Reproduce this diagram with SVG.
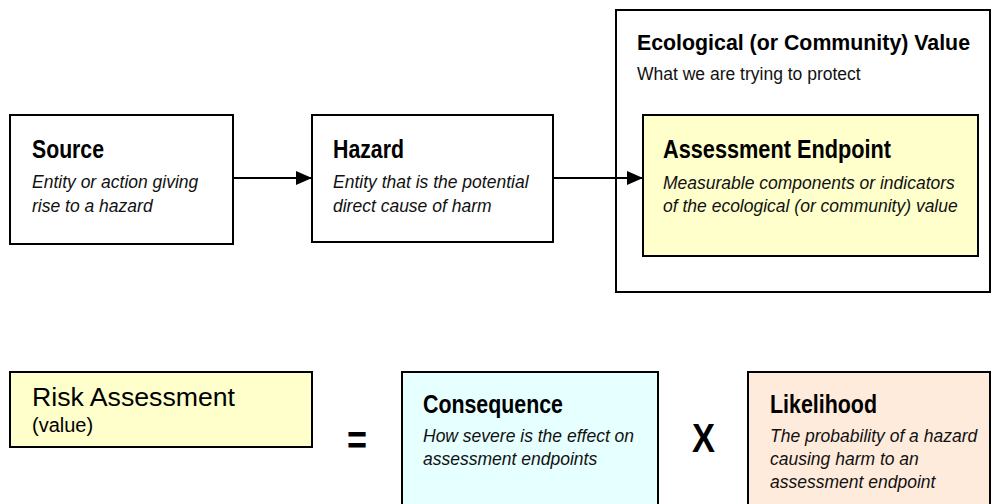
<svg xmlns="http://www.w3.org/2000/svg" width="992" height="504" viewBox="0 0 992 504">
<defs>
<marker id="ah" viewBox="0 0 16 14" refX="16" refY="7" markerWidth="16" markerHeight="14" markerUnits="userSpaceOnUse" orient="auto">
<path d="M0,0 L16,7 L0,14 Z" fill="#000"/>
</marker>
<style>
.box{stroke:#000;stroke-width:2;fill:#fff}
.yel{fill:#ffffcc}
.cyan{fill:#e6ffff}
.peach{fill:#ffebdc}
.t{font-family:"Liberation Sans Narrow","Liberation Sans",Arial,sans-serif;font-weight:bold;font-size:26px;fill:#000}
.d{font-family:"Liberation Sans",Arial,sans-serif;font-size:17.5px;font-style:italic;fill:#111}
.s{font-family:"Liberation Sans",Arial,sans-serif;font-size:17.5px;fill:#111}
.op{font-family:"Liberation Sans Narrow","Liberation Sans",Arial,sans-serif;font-weight:bold;fill:#000}
.con{stroke:#000;stroke-width:2;fill:none}
</style>
</defs>
<g id="eco">
<rect class="box" x="616" y="10" width="374" height="282"/>
<text class="t" x="637" y="50" textLength="333" lengthAdjust="spacingAndGlyphs" style="font-size:22.5px">Ecological (or Community) Value</text>
<text class="s" x="637" y="80">What we are trying to protect</text>
</g>
<g id="source">
<rect class="box" x="10" y="115" width="223" height="129"/>
<text class="t" x="32" y="158" textLength="72" lengthAdjust="spacingAndGlyphs">Source</text>
<text class="d" x="32" y="188">Entity or action giving</text>
<text class="d" x="32" y="212">rise to a hazard</text>
</g>
<g id="hazard">
<rect class="box" x="312" y="115" width="241" height="127"/>
<text class="t" x="333" y="158" textLength="71" lengthAdjust="spacingAndGlyphs">Hazard</text>
<text class="d" x="333" y="188">Entity that is the potential</text>
<text class="d" x="333" y="212">direct cause of harm</text>
</g>
<g id="endpoint">
<rect class="box yel" x="643" y="115" width="335" height="141"/>
<text class="t" x="663" y="158" textLength="228" lengthAdjust="spacingAndGlyphs">Assessment Endpoint</text>
<text class="d" x="663" y="189">Measurable components or indicators</text>
<text class="d" x="663" y="212">of the ecological (or community) value</text>
</g>
<g id="connectors">
<line class="con" x1="233" y1="178" x2="312" y2="178" marker-end="url(#ah)"/>
<line class="con" x1="553" y1="178" x2="643" y2="178" marker-end="url(#ah)"/>
</g>
<g id="risk">
<rect class="box yel" x="10" y="372" width="302" height="75"/>
<text x="32" y="406" textLength="203" lengthAdjust="spacingAndGlyphs" style="font-family:'Liberation Sans',Arial,sans-serif;font-size:26px;fill:#000">Risk Assessment</text>
<text x="32" y="432" style="font-family:'Liberation Sans',Arial,sans-serif;font-size:20px;fill:#000">(value)</text>
</g>
<text class="op" x="347" y="454" textLength="20" lengthAdjust="spacingAndGlyphs" style="font-size:40px">=</text>
<g id="consequence">
<rect class="box cyan" x="402" y="372" width="256" height="150"/>
<text class="t" x="423" y="413" textLength="140" lengthAdjust="spacingAndGlyphs">Consequence</text>
<text class="d" x="423" y="442">How severe is the effect on</text>
<text class="d" x="423" y="465">assessment endpoints</text>
</g>
<text class="op" x="692" y="452" textLength="23" lengthAdjust="spacingAndGlyphs" style="font-size:40px">X</text>
<g id="likelihood">
<rect class="box peach" x="748" y="372" width="242" height="150"/>
<text class="t" x="770" y="413" textLength="107" lengthAdjust="spacingAndGlyphs">Likelihood</text>
<text class="d" x="770" y="442">The probability of a hazard</text>
<text class="d" x="770" y="465">causing harm to an</text>
<text class="d" x="770" y="488">assessment endpoint</text>
</g>
</svg>
